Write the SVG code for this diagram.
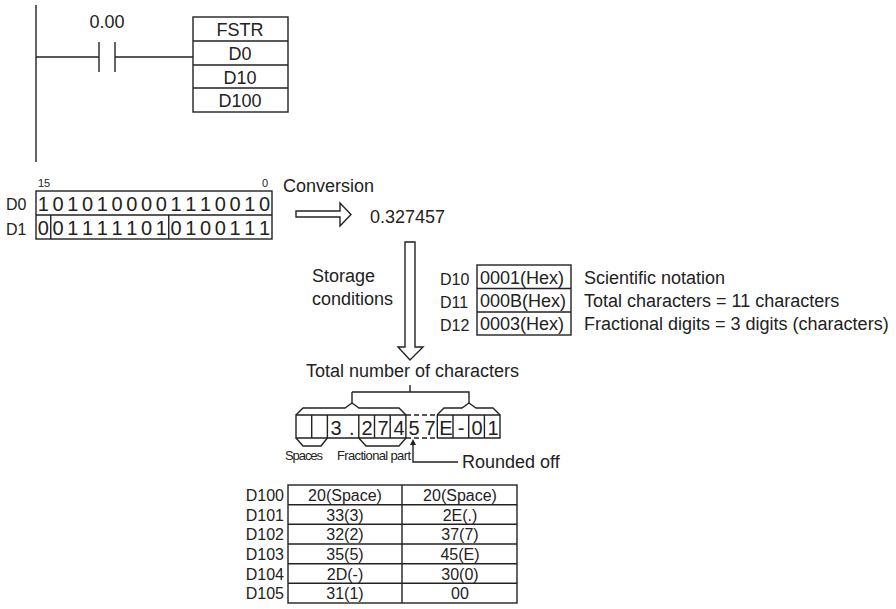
<svg xmlns="http://www.w3.org/2000/svg" width="896" height="609" viewBox="0 0 896 609">
<style>
text{font-family:"Liberation Sans",Arial,sans-serif;fill:#222}
.l{stroke:#222;stroke-width:1.4;fill:none}
.t{font-size:18px}
.b{font-size:20px}
.s{font-size:16px}
.c{text-anchor:middle}
.r{text-anchor:end}
.n{font-size:13px;font-family:"Liberation Sans Narrow","Liberation Sans",sans-serif}
</style>
<g id="ladder">
<path class="l" d="M36 5V162M36 57H99M115 57H193M99 42V72M115 42V72"/>
<text class="t c" x="107" y="28">0.00</text>
</g>
<g id="fstr">
<rect class="l" x="193" y="17" width="95" height="95"/>
<path class="l" d="M193 41H288M193 65H288M193 88H288"/>
<text class="t c" x="240" y="36">FSTR</text>
<text class="t c" x="240" y="60">D0</text>
<text class="t c" x="240" y="84">D10</text>
<text class="t c" x="240" y="107">D100</text>
</g>
<g id="bits">
<text x="38" y="187" font-size="11">15</text>
<text x="262" y="187" font-size="11">0</text>
<text class="s" x="6" y="210">D0</text>
<text class="s" x="6" y="235">D1</text>
<rect class="l" x="36" y="191" width="236" height="48"/>
<path class="l" d="M36 215H272M50.75 215V239M168.75 215V239"/>
<g class="b c">
<text y="211"><tspan x="43.4">1</tspan><tspan x="58.1">0</tspan><tspan x="72.9">1</tspan><tspan x="87.6">0</tspan><tspan x="102.4">1</tspan><tspan x="117.1">0</tspan><tspan x="131.9">0</tspan><tspan x="146.6">0</tspan><tspan x="161.4">0</tspan><tspan x="176.1">1</tspan><tspan x="190.9">1</tspan><tspan x="205.6">1</tspan><tspan x="220.4">0</tspan><tspan x="235.1">0</tspan><tspan x="249.9">1</tspan><tspan x="264.6">0</tspan></text>
<text y="235"><tspan x="43.4">0</tspan><tspan x="58.1">0</tspan><tspan x="72.9">1</tspan><tspan x="87.6">1</tspan><tspan x="102.4">1</tspan><tspan x="117.1">1</tspan><tspan x="131.9">1</tspan><tspan x="146.6">0</tspan><tspan x="161.4">1</tspan><tspan x="176.1">0</tspan><tspan x="190.9">1</tspan><tspan x="205.6">0</tspan><tspan x="220.4">0</tspan><tspan x="235.1">1</tspan><tspan x="249.9">1</tspan><tspan x="264.6">1</tspan></text>
</g>
</g>
<g id="conversion">
<text class="t" x="283" y="192">Conversion</text>
<text class="t" x="370" y="223">0.327457</text>
</g>
<g id="storage">
<text class="t" x="312" y="282">Storage</text>
<text class="t" x="312" y="305">conditions</text>
</g>
<g id="params">
<text class="s" x="440" y="285">D10</text>
<text class="s" x="440" y="308">D11</text>
<text class="s" x="440" y="331">D12</text>
<rect class="l" x="477" y="265" width="94" height="70"/>
<path class="l" d="M477 288.5H571M477 312H571"/>
<text class="t" x="480" y="284">0001(Hex)</text>
<text class="t" x="480" y="307">000B(Hex)</text>
<text class="t" x="480" y="330">0003(Hex)</text>
<text class="t" x="584" y="284">Scientific notation</text>
<text class="t" x="584" y="307">Total characters = 11 characters</text>
<text class="t" x="584" y="330">Fractional digits = 3 digits (characters)</text>
</g>
<g id="chars">
<text class="t" x="306" y="377">Total number of characters</text>
<path class="l" d="M410 385V392M352 392H469V403M352 392V403"/>
<path class="l" d="M296 415L303 408H345L352 403L359 408H399L406 415"/>
<path class="l" d="M437 415L444 408H462L469 403L476 408H493L500 415"/>
<path class="l" d="M406 415H296V438H406M437 415H500V438H437"/>
<path class="l" d="M406 415H437M406 438H437" stroke-dasharray="5,3"/>
<path class="l" d="M311.7 415V438M327.4 415V438M358.8 415V438M374.5 415V438M390.2 415V438M405.9 415V438M437.3 415V438M453 415V438M468.7 415V438M484.4 415V438"/>
<path class="l" d="M296 438L303 446H321L327.4 438M358.8 438L366 446H399L406 438"/>
<g class="b c">
<text x="336" y="435">3</text><text x="351.7" y="435">.</text><text x="367" y="435">2</text><text x="383" y="435">7</text><text x="399" y="435">4</text><text x="414" y="435">5</text><text x="430" y="435">7</text><text x="446" y="435">E</text><text x="461" y="435">-</text><text x="477" y="435">0</text><text x="493" y="435">1</text>
</g>
<text class="n" x="285" y="460" textLength="38">Spaces</text>
<text class="n" x="337" y="460" textLength="74">Fractional part</text>
<path class="l" d="M413 443V462H458"/>
<path d="M413 439L410 445H416Z" fill="#222"/>
<text class="t" x="462" y="468">Rounded off</text>
</g>
<g id="table">
<rect class="l" x="288" y="485" width="229" height="118"/>
<path class="l" d="M402 485V603M288 504.7H517M288 524.3H517M288 544H517M288 563.7H517M288 583.3H517"/>
<g class="s r">
<text x="284" y="501">D100</text><text x="284" y="521">D101</text><text x="284" y="540">D102</text><text x="284" y="560">D103</text><text x="284" y="580">D104</text><text x="284" y="599">D105</text>
</g>
<g class="s c">
<text x="345" y="501">20(Space)</text><text x="460" y="501">20(Space)</text>
<text x="345" y="521">33(3)</text><text x="460" y="521">2E(.)</text>
<text x="345" y="540">32(2)</text><text x="460" y="540">37(7)</text>
<text x="345" y="560">35(5)</text><text x="460" y="560">45(E)</text>
<text x="345" y="580">2D(-)</text><text x="460" y="580">30(0)</text>
<text x="345" y="599">31(1)</text><text x="460" y="599">00</text>
</g>
</g>
<g id="connectors">
<path class="l" d="M296 211H340V203L351 214.5L340 226V217H296Z"/>
<path class="l" d="M405 242H415V347H423L410 360L398 347H405Z"/>
</g>
</svg>
